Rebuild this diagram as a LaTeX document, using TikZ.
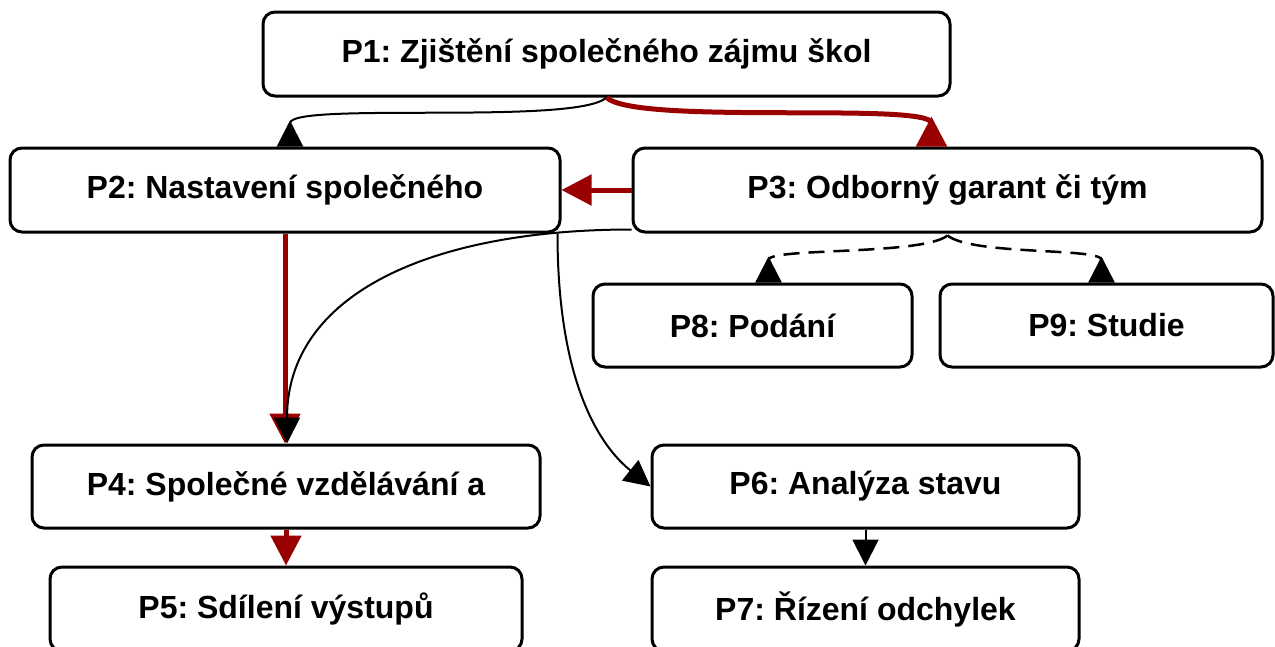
\documentclass[tikz,border=0pt]{standalone}
\usepackage{fontspec}
\setmainfont{Liberation Sans}
\usetikzlibrary{arrows.meta}
\definecolor{darkred}{HTML}{990000}
\tikzset{
  box/.style={draw=black, line width=3pt, rounded corners=12pt, fill=white,
    inner sep=0pt, align=center, font=\frenchspacing\bfseries\fontsize{32}{37}\selectfont},
  redarr/.style={draw=darkred, line width=5pt, -{Triangle[length=30pt,width=30pt]}},
  redrev/.style={draw=darkred, line width=5pt, -{Triangle[reversed,length=30pt,width=30pt]}},
  blkarr/.style={draw=black, line width=2pt, -{Triangle[length=26pt,width=26pt]}},
  blkrev/.style={draw=black, line width=2pt, -{Triangle[reversed,length=26pt,width=26pt]}},
  dsh/.style={dash pattern=on 16pt off 9pt, line width=2.5pt},
}
\begin{document}
\begin{tikzpicture}[x=1pt,y=-1pt]
\useasboundingbox (0,0) rectangle (1275,646);
\node[box, minimum width=687pt, minimum height=84pt] (P1) at (606.5,54) {P1: Zjištění společného zájmu škol};
\node[box, minimum width=550pt, minimum height=84pt] (P2) at (285,190) {P2: Nastavení společného};
\node[box, minimum width=629pt, minimum height=84pt] (P3) at (947.5,190) {P3: Odborný garant či tým};
\node[box, minimum width=319pt, minimum height=83pt] (P8) at (752.5,325.5) {P8: Podání};
\node[box, minimum width=333pt, minimum height=83pt] (P9) at (1106.5,325.5) {P9: Studie};
\node[box, minimum width=508pt, minimum height=83pt] (P4) at (286,486.5) {P4: Společné vzdělávání a};
\node[box, minimum width=427pt, minimum height=83pt] (P6) at (865.5,486.5) {P6: Analýza stavu};
\node[box, minimum width=472pt, minimum height=84pt] (P5) at (286,609) {P5: Sdílení výstupů};
\node[box, minimum width=427pt, minimum height=84pt] (P7) at (865.5,609) {P7: Řízení odchylek};

\draw[blkrev] (P1.south) .. controls +(-30,28) and +(0,-45) .. ([xshift=5pt]P2.north);
\draw[redrev] (P1.south) .. controls +(30,28) and +(0,-45) .. ([xshift=-16pt]P3.north);
\draw[redarr] (P3.west) -- (P2.east);
\draw[redarr] (P2.south) -- (P2.south |- P4.north);
\draw[blkarr] ([yshift=4pt]P3.south west) .. controls +(-200,0) and +(0,-150) .. ([xshift=1pt]P4.north);
\draw[blkarr] ([xshift=-4pt]P2.south east) .. controls +(0,150) and +(-50,-40) .. (P6.west);
\draw[blkrev, dsh] ([yshift=-2pt]P3.south) .. controls +(-25,20) and +(0,-35) .. ([xshift=16pt]P8.north);
\draw[blkrev, dsh] ([yshift=-2pt]P3.south) .. controls +(25,20) and +(0,-35) .. ([xshift=-5pt]P9.north);
\draw[redarr] (P4.south) -- (P4.south |- P5.north);
\draw[blkarr] (P6.south) -- (P7.north);
\end{tikzpicture}
\end{document}
